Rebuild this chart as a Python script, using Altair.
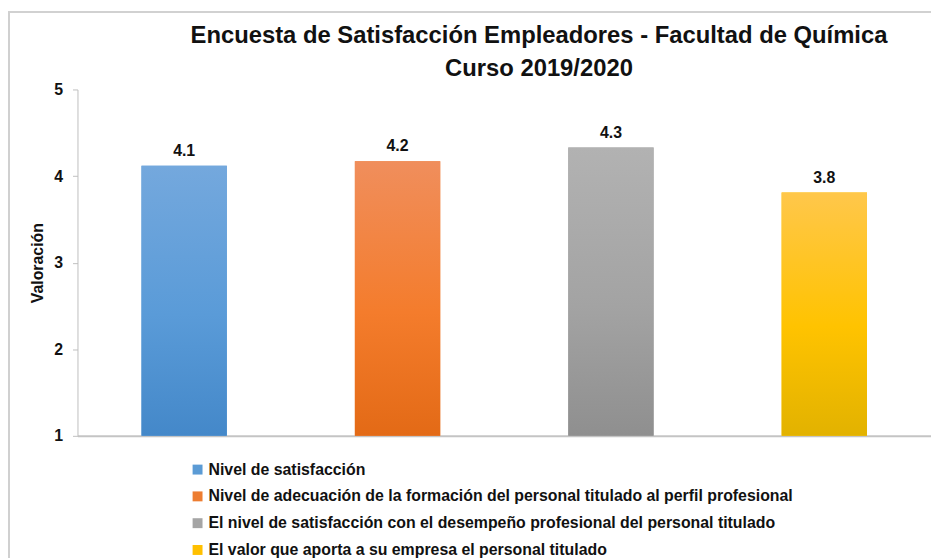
import altair as alt
import pandas as pd

categories = [
    "Nivel de satisfacción",
    "Nivel de adecuación de la formación del personal titulado al perfil profesional",
    "El nivel de satisfacción con el desempeño profesional del personal titulado",
    "El valor que aporta a su empresa el personal titulado",
]
values = [4.12, 4.17, 4.33, 3.81]
legend_colors = ["#5B9BD5", "#ED7D31", "#A5A5A5", "#FFC000"]
grad_top = ["#74A8DD", "#F08E5C", "#B2B2B2", "#FFC74B"]
grad_mid = ["#5A9BD8", "#F47C2C", "#A3A3A3", "#FFC300"]
grad_bottom = ["#4488C9", "#E36A16", "#8F8F8F", "#E2B200"]
y_ticks = [1, 2, 3, 4, 5]

FONT = "Liberation Sans, Arial, sans-serif"

df = pd.DataFrame({"cat": categories, "val": values})

x_enc = alt.X(
    "cat:N",
    sort=categories,
    scale=alt.Scale(paddingInner=0.6, paddingOuter=0.3),
    axis=alt.Axis(labels=False, ticks=False, title=None,
                  domainColor="#C4C4C4", domainWidth=2),
)
y_enc = alt.Y(
    "val:Q",
    scale=alt.Scale(domain=[1, 5], zero=False, nice=False),
    axis=alt.Axis(values=y_ticks, format="d", title="Valoración", grid=False,
                  labelFont=FONT, labelFontSize=16, labelFontWeight="bold",
                  labelColor="#111111", labelPadding=10, tickSize=5,
                  tickColor="#BFBFBF", domainColor="#BFBFBF",
                  titleFont=FONT, titleFontSize=16, titleFontWeight="bold",
                  titleColor="#111111", titlePadding=8),
)

base = alt.Chart(df)

legend_bars = base.mark_bar().encode(
    x=x_enc,
    y=y_enc,
    y2=alt.datum(1),
    color=alt.Color(
        "cat:N",
        sort=categories,
        scale=alt.Scale(domain=categories, range=legend_colors),
        legend=alt.Legend(
            title=None, orient="none", legendX=113, legendY=375,
            direction="vertical", symbolType="square", symbolSize=100,
            symbolStrokeWidth=0, labelFont=FONT, labelFontSize=16,
            labelFontWeight="bold", labelColor="#111111", labelLimit=0,
            rowPadding=11, padding=0, labelOffset=3,
        ),
    ),
)

layers = [legend_bars]
for i, c in enumerate(categories):
    grad = alt.LinearGradient(
        gradient="linear",
        stops=[
            alt.GradientStop(color=grad_top[i], offset=0),
            alt.GradientStop(color=grad_mid[i], offset=0.55),
            alt.GradientStop(color=grad_bottom[i], offset=1),
        ],
        x1=0, x2=0, y1=0, y2=1,
    )
    layers.append(
        base.transform_filter(alt.datum.cat == c)
        .mark_bar(fill=grad)
        .encode(x=x_enc, y=y_enc, y2=alt.datum(1))
    )

labels = base.mark_text(
    dy=-7, baseline="bottom", font=FONT, fontSize=16, fontWeight="bold",
    color="#111111",
).encode(x=x_enc, y=y_enc, text=alt.Text("val:Q", format=".1f"))
layers.append(labels)

frame_top = base.mark_rule(color="#D0D0D0", strokeWidth=1.5).encode(
    x=alt.value(-70), x2=alt.value(860), y=alt.value(-78)
)
frame_left = base.mark_rule(color="#D0D0D0", strokeWidth=1.5).encode(
    x=alt.value(-69), y=alt.value(-78), y2=alt.value(480)
)
layers += [frame_top, frame_left]

chart = alt.layer(*layers).properties(
    width=860,
    height=349,
    title=alt.TitleParams(
        text=["Encuesta de Satisfacción Empleadores - Facultad de Química",
              "Curso 2019/2020"],
        font=FONT, fontSize=24, fontWeight="bold", color="#111111",
        anchor="middle", frame="group", dx=35, dy=76, lineHeight=33, offset=6,
    ),
    autosize=alt.AutoSizeParams(type="none"),
    padding={"left": 70, "top": 80, "right": 0, "bottom": 121},
).configure_view(stroke=None)

chart.save("out.html", embed_options={"renderer": "svg", "actions": False})
